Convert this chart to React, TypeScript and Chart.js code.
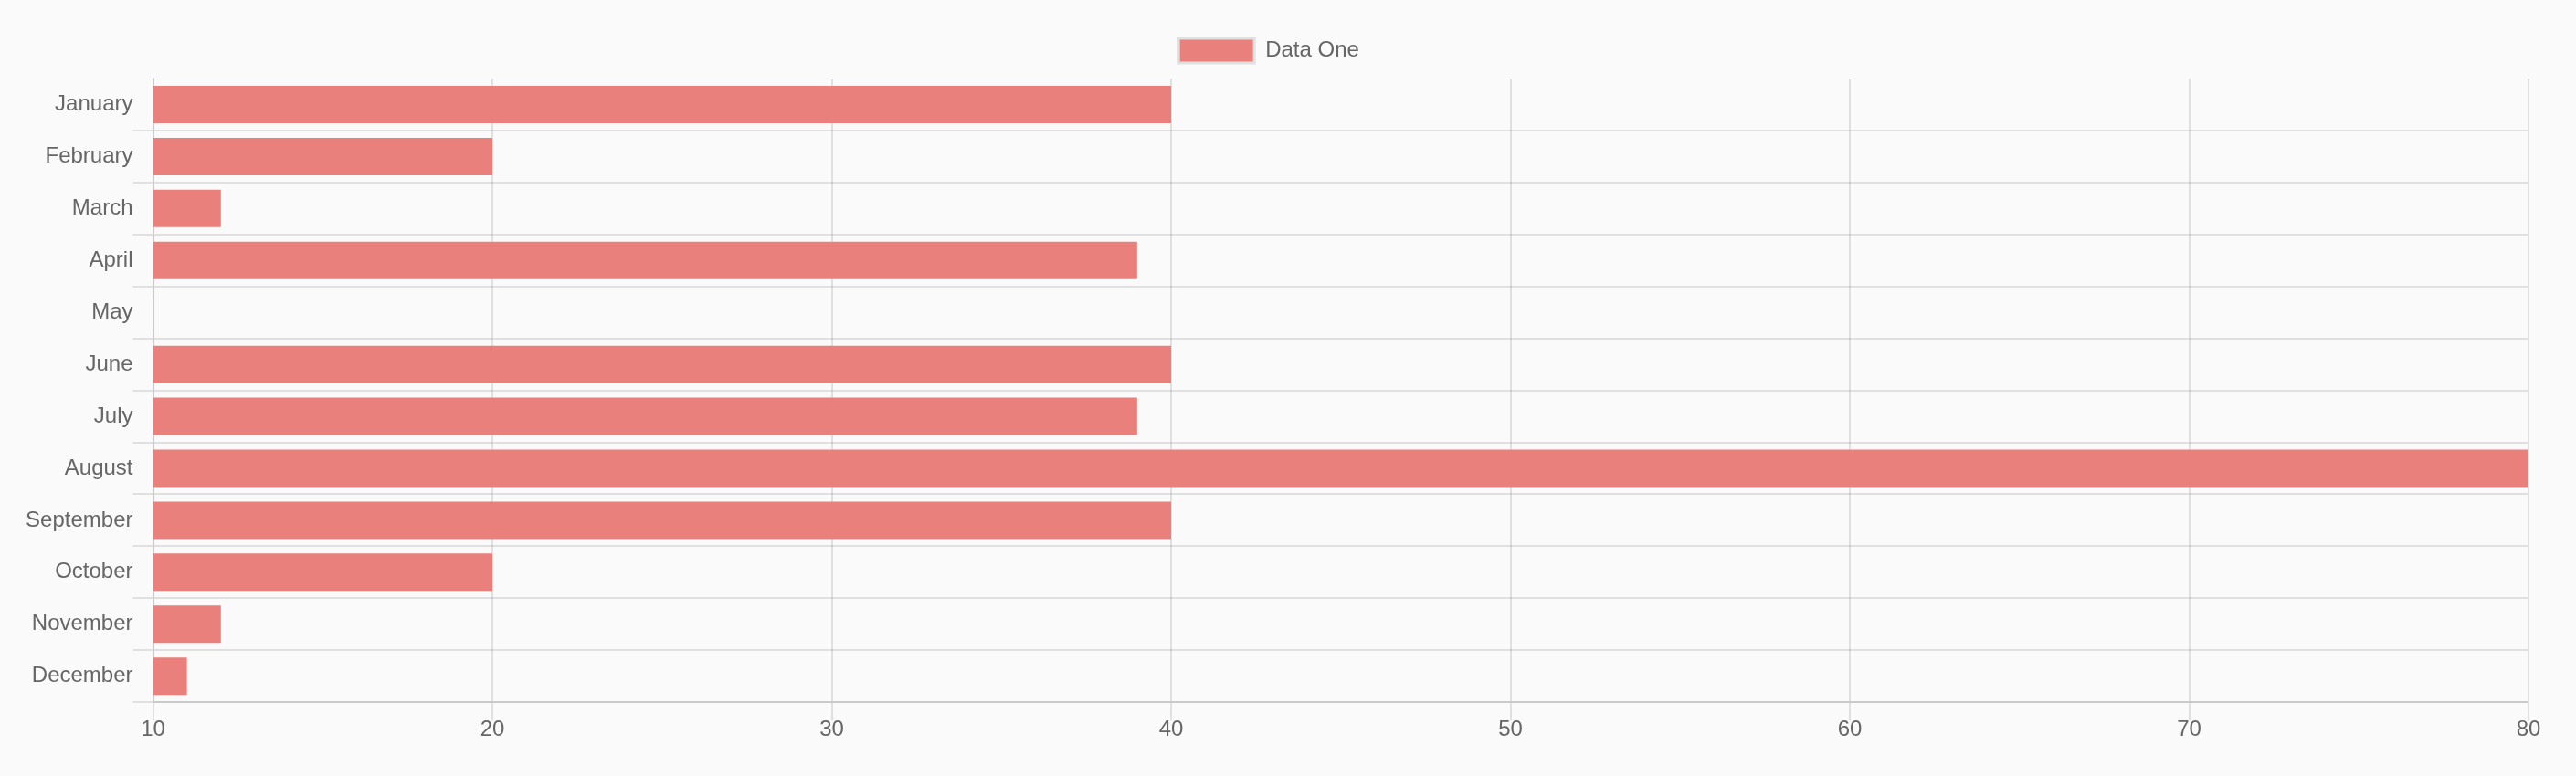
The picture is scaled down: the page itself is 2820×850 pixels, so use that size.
import React, { useEffect, useRef } from "react";
import { Chart, registerables } from "chart.js";

Chart.register(...registerables);

const categories = [
  "January", "February", "March", "April", "May", "June",
  "July", "August", "September", "October", "November", "December",
];
const seriesName = "Data One";
const dataOne = [40, 20, 12, 39, 10, 40, 39, 80, 40, 20, 12, 11];
const xMin = 10;
const xMax = 80;
const xStep = 10;

const BAR_COLOR = "#E9807C";
const GRID = "rgba(0,0,0,0.1)";
const TEXT = "#666666";
const FONT = "'Helvetica Neue', Helvetica, Arial, 'Liberation Sans', sans-serif";

const legendShift = {
  id: "legendShift",
  afterLayout(chart: any) {
    if (chart.legend) {
      chart.legend.top -= 7;
      chart.legend.bottom -= 7;
    }
  },
};

export default function App() {
  const ref = useRef<HTMLCanvasElement | null>(null);

  useEffect(() => {
    document.body.style.margin = "0";
    document.body.style.background = "#fafafa";
    const canvas = ref.current;
    if (!canvas) return;
    const chart = new Chart(canvas, {
      type: "bar",
      data: {
        labels: categories,
        datasets: [
          {
            label: seriesName,
            data: dataOne,
            backgroundColor: BAR_COLOR,
            borderWidth: 0,
          },
        ],
      },
      plugins: [legendShift],
      options: {
        indexAxis: "y",
        responsive: false,
        animation: false,
        devicePixelRatio: 1,
        layout: { padding: { top: 8, left: 10, right: 52, bottom: 40 } },
        plugins: {
          legend: {
            display: true,
            position: "top",
            labels: {
              color: TEXT,
              font: { size: 24, family: FONT },
              boxWidth: 83,
              boxHeight: 27,
              padding: 41,
              generateLabels: (c: any) => {
                const items = Chart.defaults.plugins.legend.labels.generateLabels(c);
                return items.map((it: any) => ({
                  ...it,
                  fillStyle: BAR_COLOR,
                  strokeStyle: "#e0e0e0",
                  lineWidth: 3,
                }));
              },
            },
          },
          tooltip: { enabled: false },
        },
        scales: {
          x: {
            type: "linear",
            min: xMin,
            max: xMax,
            ticks: {
              stepSize: xStep,
              color: TEXT,
              font: { size: 24, family: FONT },
              padding: -4,
            },
            grid: { color: GRID, lineWidth: 2, tickLength: 20 },
            border: { color: GRID, width: 2 },
          },
          y: {
            afterFit: (scale: any) => {
              scale.width = 157.5;
            },
            ticks: {
              color: TEXT,
              font: { size: 24, family: FONT },
              padding: 0,
            },
            grid: {
              color: (ctx: any) => (ctx.index === 0 ? "rgba(0,0,0,0)" : GRID),
              lineWidth: 2,
              tickLength: 22,
            },
            border: { color: GRID, width: 2 },
          },
        },
      },
    });
    return () => chart.destroy();
  }, []);

  return (
    <div style={{ position: "absolute", left: 0, top: 0, width: 2820, height: 850, background: "#fafafa" }}>
      <canvas ref={ref} width={2820} height={850} style={{ display: "block" }} />
    </div>
  );
}
